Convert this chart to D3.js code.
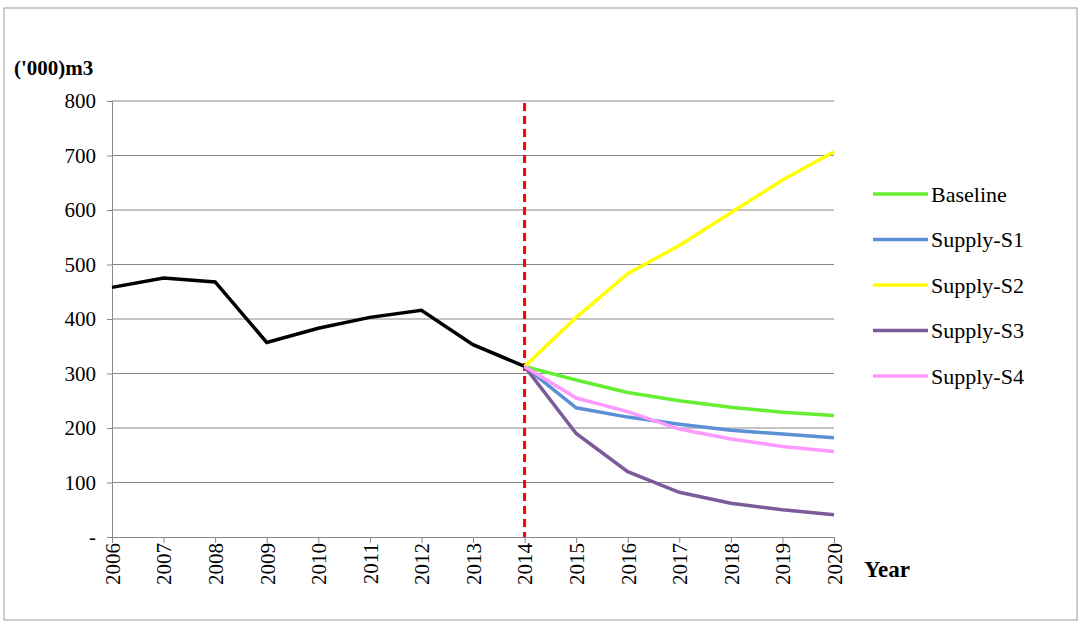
<!DOCTYPE html>
<html><head><meta charset="utf-8">
<script src="https://cdn.jsdelivr.net/npm/d3@7"></script>
<style>body{margin:0;background:#fff;font-family:"Liberation Serif",serif;}</style>
</head><body>
<script>
const years = d3.range(2006, 2021);
const histYears = [2006, 2007, 2008, 2009, 2010, 2011, 2012, 2013, 2014];
const histValues = [458, 475, 468, 357, 383, 403, 416, 353, 313];
const projYears = [2014, 2015, 2016, 2017, 2018, 2019, 2020];
const seriesNames = ["Baseline", "Supply-S1", "Supply-S2", "Supply-S3", "Supply-S4"];
const seriesColors = ["#66ee33", "#5b8fd6", "#ffff00", "#7b5a9a", "#ff99ff"];
const baseline = [313, 288, 265, 250, 238, 229, 223];
const supplyS1 = [313, 237, 220, 207, 196, 189, 182];
const supplyS2 = [313, 403, 483, 535, 595, 655, 707];
const supplyS3 = [313, 190, 120, 82, 62, 50, 41];
const supplyS4 = [313, 255, 230, 198, 180, 166, 157];
const yTicks = [0, 100, 200, 300, 400, 500, 600, 700, 800];

const width = 1083, height = 628;
const svg = d3.select("body").append("svg").attr("width", width).attr("height", height);

svg.append("rect").attr("x", 4).attr("y", 8).attr("width", 1073).attr("height", 612)
  .attr("fill", "none").attr("stroke", "#999").attr("stroke-width", 1);

const x = d3.scaleLinear().domain([2006, 2020]).range([112, 834]);
const y = d3.scaleLinear().domain([0, 800]).range([537, 101]);

svg.selectAll(".grid").data(yTicks.slice(1)).enter().append("line")
  .attr("x1", 112).attr("x2", 834).attr("y1", d => y(d)).attr("y2", d => y(d))
  .attr("stroke", "#888").attr("stroke-width", 1);

const yAxis = svg.append("g").attr("transform", "translate(112,0)")
  .call(d3.axisLeft(y).tickValues(yTicks).tickSize(5).tickFormat(d => d === 0 ? "-" : d));
yAxis.attr("font-size", null).attr("font-family", null);
yAxis.select(".domain").attr("stroke", "#888");
yAxis.selectAll(".tick line").attr("stroke", "#888");
yAxis.selectAll("text").style("font-family", "Liberation Serif").style("font-size", "21px").attr("fill", "#000").attr("dx", -8);

const xAxis = svg.append("g").attr("transform", "translate(0,537)")
  .call(d3.axisBottom(x).tickValues(years).tickSize(6).tickFormat(d3.format("d")));
xAxis.attr("font-size", null).attr("font-family", null);
xAxis.select(".domain").attr("stroke", "#888");
xAxis.selectAll(".tick line").attr("stroke", "#888");
xAxis.selectAll("text").style("font-family", "Liberation Serif").style("font-size", "21px").attr("fill", "#000")
  .attr("transform", "rotate(-90)").attr("text-anchor", "end").attr("x", -6).attr("y", 0).attr("dy", "0.35em");

svg.append("line").attr("x1", x(2014)).attr("x2", x(2014)).attr("y1", 103).attr("y2", 537)
  .attr("stroke", "#ff0000").attr("stroke-width", 3).attr("stroke-dasharray", "8,5");

const line = d3.line().x(d => x(d[0])).y(d => y(d[1]));
svg.append("path").datum(histYears.map((yr, i) => [yr, histValues[i]]))
  .attr("d", line).attr("fill", "none").attr("stroke", "#000").attr("stroke-width", 3.5);

const allSeries = [baseline, supplyS1, supplyS2, supplyS3, supplyS4];
allSeries.forEach((vals, k) => {
  svg.append("path").datum(projYears.map((yr, i) => [yr, vals[i]]))
    .attr("d", line).attr("fill", "none").attr("stroke", seriesColors[k]).attr("stroke-width", 3.5);
});

const leg = svg.append("g");
seriesNames.forEach((n, i) => {
  const ly = 194 + i * 45.5;
  leg.append("line").attr("x1", 873).attr("x2", 928).attr("y1", ly).attr("y2", ly)
    .attr("stroke", seriesColors[i]).attr("stroke-width", 3.5);
  leg.append("text").attr("x", 931).attr("y", ly).attr("dy", "0.35em")
    .attr("font-size", 22).text(n);
});

svg.append("text").attr("x", 14).attr("y", 75).attr("font-size", 21).attr("font-weight", "bold").text("('000)m3");
svg.append("text").attr("x", 864).attr("y", 577).attr("font-size", 23).attr("font-weight", "bold").text("Year");
</script>
</body></html>
